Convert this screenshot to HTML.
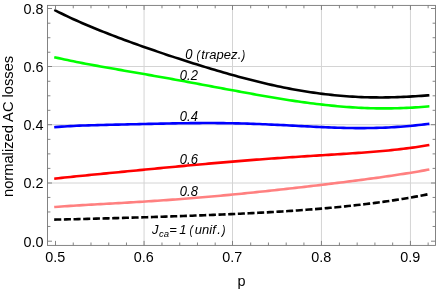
<!DOCTYPE html>
<html><head><meta charset="utf-8"><title>plot</title>
<style>
html,body{margin:0;padding:0;background:#fff;}
body{width:436px;height:291px;overflow:hidden;font-family:"Liberation Sans",sans-serif;}
svg{display:block;}
text{font-family:"Liberation Sans",sans-serif;fill:#000;}
.t{font-size:14.4px;}
.i{font-size:13px;font-style:italic;}
.s{font-size:9.5px;font-style:italic;}
</style></head><body>
<svg width="436" height="291" viewBox="0 0 436 291">
<defs><filter id="gs" x="0" y="0" width="436" height="291" filterUnits="userSpaceOnUse" color-interpolation-filters="sRGB"><feColorMatrix type="saturate" values="0"/></filter></defs>
<rect x="0" y="0" width="436" height="291" fill="#fff"/>
<g stroke="#d4d4d4" stroke-width="1" fill="none">
<line x1="144.05" y1="5.40" x2="144.05" y2="245.40"/>
<line x1="232.50" y1="5.40" x2="232.50" y2="245.40"/>
<line x1="321.45" y1="5.40" x2="321.45" y2="245.40"/>
<line x1="410.45" y1="5.40" x2="410.45" y2="245.40"/>
<line x1="47.50" y1="183.00" x2="435.50" y2="183.00"/>
<line x1="47.50" y1="124.70" x2="435.50" y2="124.70"/>
<line x1="47.50" y1="66.50" x2="435.50" y2="66.50"/>
</g>
<path d="M54.2 219.64 L57.2 219.57 L60.2 219.51 L63.2 219.45 L66.2 219.38 L69.2 219.31 L72.2 219.25 L75.2 219.18 L78.2 219.10 L81.2 219.03 L84.2 218.96 L87.2 218.88 L90.2 218.81 L93.2 218.73 L96.2 218.65 L99.2 218.57 L102.2 218.49 L105.2 218.41 L108.2 218.33 L111.2 218.25 L114.2 218.17 L117.2 218.08 L120.2 218.00 L123.2 217.91 L126.2 217.82 L129.2 217.73 L132.2 217.65 L135.2 217.56 L138.2 217.47 L141.2 217.38 L144.2 217.28 L147.2 217.19 L150.2 217.10 L153.2 217.00 L156.2 216.91 L159.2 216.81 L162.2 216.71 L165.2 216.61 L168.2 216.52 L171.2 216.42 L174.2 216.31 L177.2 216.21 L180.2 216.11 L183.2 216.00 L186.2 215.90 L189.2 215.79 L192.2 215.68 L195.2 215.57 L198.2 215.46 L201.2 215.35 L204.2 215.23 L207.2 215.11 L210.2 215.00 L213.2 214.88 L216.2 214.76 L219.2 214.63 L222.2 214.51 L225.2 214.38 L228.2 214.25 L231.2 214.12 L234.2 213.98 L237.2 213.85 L240.2 213.71 L243.2 213.57 L246.2 213.42 L249.2 213.27 L252.2 213.12 L255.2 212.97 L258.2 212.82 L261.2 212.66 L264.2 212.49 L267.2 212.33 L270.2 212.16 L273.2 211.99 L276.2 211.81 L279.2 211.63 L282.2 211.44 L285.2 211.25 L288.2 211.06 L291.2 210.86 L294.2 210.66 L297.2 210.45 L300.2 210.24 L303.2 210.02 L306.2 209.80 L309.2 209.57 L312.2 209.34 L315.2 209.10 L318.2 208.86 L321.2 208.61 L324.2 208.35 L327.2 208.09 L330.2 207.82 L333.2 207.54 L336.2 207.26 L339.2 206.97 L342.2 206.67 L345.2 206.37 L348.2 206.06 L351.2 205.74 L354.2 205.41 L357.2 205.08 L360.2 204.73 L363.2 204.38 L366.2 204.02 L369.2 203.65 L372.2 203.27 L375.2 202.88 L378.2 202.49 L381.2 202.08 L384.2 201.66 L387.2 201.23 L390.2 200.80 L393.2 200.35 L396.2 199.89 L399.2 199.42 L402.2 198.94 L405.2 198.44 L408.2 197.94 L411.2 197.42 L414.2 196.89 L417.2 196.35 L420.2 195.79 L423.2 195.23 L426.2 194.65 L428.3 194.23" fill="none" stroke="#000" stroke-width="2.6" stroke-dasharray="7.07 2.6"/>
<path d="M55.5 206.97 L58.5 206.74 L61.5 206.52 L64.5 206.31 L67.5 206.11 L70.5 205.91 L73.5 205.72 L76.5 205.53 L79.5 205.34 L82.5 205.16 L85.5 204.98 L88.5 204.80 L91.5 204.63 L94.5 204.46 L97.5 204.29 L100.5 204.12 L103.5 203.95 L106.5 203.78 L109.5 203.61 L112.5 203.44 L115.5 203.27 L118.5 203.10 L121.5 202.93 L124.5 202.76 L127.5 202.58 L130.5 202.41 L133.5 202.23 L136.5 202.05 L139.5 201.86 L142.5 201.68 L145.5 201.49 L148.5 201.30 L151.5 201.11 L154.5 200.91 L157.5 200.71 L160.5 200.50 L163.5 200.30 L166.5 200.09 L169.5 199.87 L172.5 199.66 L175.5 199.43 L178.5 199.21 L181.5 198.98 L184.5 198.75 L187.5 198.51 L190.5 198.28 L193.5 198.03 L196.5 197.79 L199.5 197.54 L202.5 197.28 L205.5 197.02 L208.5 196.76 L211.5 196.50 L214.5 196.23 L217.5 195.96 L220.5 195.68 L223.5 195.41 L226.5 195.12 L229.5 194.84 L232.5 194.55 L235.5 194.26 L238.5 193.97 L241.5 193.67 L244.5 193.37 L247.5 193.07 L250.5 192.76 L253.5 192.45 L256.5 192.14 L259.5 191.83 L262.5 191.51 L265.5 191.20 L268.5 190.87 L271.5 190.55 L274.5 190.23 L277.5 189.90 L280.5 189.57 L283.5 189.24 L286.5 188.90 L289.5 188.57 L292.5 188.23 L295.5 187.89 L298.5 187.55 L301.5 187.20 L304.5 186.86 L307.5 186.51 L310.5 186.16 L313.5 185.80 L316.5 185.45 L319.5 185.09 L322.5 184.74 L325.5 184.38 L328.5 184.01 L331.5 183.65 L334.5 183.28 L337.5 182.91 L340.5 182.54 L343.5 182.17 L346.5 181.79 L349.5 181.41 L352.5 181.03 L355.5 180.64 L358.5 180.25 L361.5 179.86 L364.5 179.46 L367.5 179.06 L370.5 178.66 L373.5 178.25 L376.5 177.84 L379.5 177.42 L382.5 177.00 L385.5 176.57 L388.5 176.14 L391.5 175.70 L394.5 175.25 L397.5 174.80 L400.5 174.34 L403.5 173.87 L406.5 173.40 L409.5 172.91 L412.5 172.42 L415.5 171.92 L418.5 171.41 L421.5 170.89 L424.5 170.36 L427.5 169.81 L428.1 169.70" fill="none" stroke="#ff8080" stroke-width="2.6" stroke-linecap="square"/>
<path d="M55.5 178.54 L58.5 178.21 L61.5 177.89 L64.5 177.57 L67.5 177.26 L70.5 176.95 L73.5 176.64 L76.5 176.33 L79.5 176.02 L82.5 175.72 L85.5 175.42 L88.5 175.12 L91.5 174.82 L94.5 174.53 L97.5 174.23 L100.5 173.93 L103.5 173.64 L106.5 173.35 L109.5 173.05 L112.5 172.76 L115.5 172.47 L118.5 172.18 L121.5 171.89 L124.5 171.60 L127.5 171.30 L130.5 171.01 L133.5 170.72 L136.5 170.43 L139.5 170.14 L142.5 169.85 L145.5 169.56 L148.5 169.27 L151.5 168.99 L154.5 168.70 L157.5 168.41 L160.5 168.12 L163.5 167.83 L166.5 167.55 L169.5 167.26 L172.5 166.98 L175.5 166.69 L178.5 166.41 L181.5 166.13 L184.5 165.85 L187.5 165.57 L190.5 165.29 L193.5 165.01 L196.5 164.74 L199.5 164.46 L202.5 164.19 L205.5 163.92 L208.5 163.65 L211.5 163.38 L214.5 163.12 L217.5 162.85 L220.5 162.59 L223.5 162.34 L226.5 162.08 L229.5 161.83 L232.5 161.58 L235.5 161.33 L238.5 161.08 L241.5 160.84 L244.5 160.60 L247.5 160.36 L250.5 160.13 L253.5 159.89 L256.5 159.66 L259.5 159.44 L262.5 159.21 L265.5 158.99 L268.5 158.77 L271.5 158.56 L274.5 158.35 L277.5 158.14 L280.5 157.93 L283.5 157.72 L286.5 157.52 L289.5 157.32 L292.5 157.12 L295.5 156.93 L298.5 156.73 L301.5 156.54 L304.5 156.35 L307.5 156.16 L310.5 155.98 L313.5 155.79 L316.5 155.60 L319.5 155.42 L322.5 155.23 L325.5 155.05 L328.5 154.86 L331.5 154.67 L334.5 154.49 L337.5 154.30 L340.5 154.11 L343.5 153.92 L346.5 153.72 L349.5 153.52 L352.5 153.32 L355.5 153.11 L358.5 152.90 L361.5 152.69 L364.5 152.47 L367.5 152.24 L370.5 152.01 L373.5 151.77 L376.5 151.52 L379.5 151.26 L382.5 150.99 L385.5 150.71 L388.5 150.42 L391.5 150.12 L394.5 149.81 L397.5 149.48 L400.5 149.14 L403.5 148.79 L406.5 148.41 L409.5 148.02 L412.5 147.62 L415.5 147.19 L418.5 146.74 L421.5 146.27 L424.5 145.78 L427.5 145.27 L428.1 145.16" fill="none" stroke="#ff0000" stroke-width="2.6" stroke-linecap="square"/>
<path d="M55.5 127.11 L58.5 126.86 L61.5 126.63 L64.5 126.43 L67.5 126.25 L70.5 126.08 L73.5 125.93 L76.5 125.80 L79.5 125.67 L82.5 125.56 L85.5 125.45 L88.5 125.35 L91.5 125.26 L94.5 125.18 L97.5 125.09 L100.5 125.02 L103.5 124.94 L106.5 124.87 L109.5 124.80 L112.5 124.73 L115.5 124.66 L118.5 124.59 L121.5 124.53 L124.5 124.46 L127.5 124.39 L130.5 124.32 L133.5 124.25 L136.5 124.19 L139.5 124.12 L142.5 124.05 L145.5 123.98 L148.5 123.91 L151.5 123.85 L154.5 123.78 L157.5 123.71 L160.5 123.65 L163.5 123.59 L166.5 123.53 L169.5 123.47 L172.5 123.41 L175.5 123.36 L178.5 123.31 L181.5 123.26 L184.5 123.22 L187.5 123.18 L190.5 123.15 L193.5 123.12 L196.5 123.09 L199.5 123.08 L202.5 123.06 L205.5 123.06 L208.5 123.05 L211.5 123.06 L214.5 123.07 L217.5 123.09 L220.5 123.11 L223.5 123.15 L226.5 123.19 L229.5 123.23 L232.5 123.28 L235.5 123.34 L238.5 123.41 L241.5 123.49 L244.5 123.57 L247.5 123.66 L250.5 123.75 L253.5 123.85 L256.5 123.96 L259.5 124.07 L262.5 124.19 L265.5 124.32 L268.5 124.45 L271.5 124.59 L274.5 124.73 L277.5 124.87 L280.5 125.02 L283.5 125.17 L286.5 125.32 L289.5 125.47 L292.5 125.63 L295.5 125.79 L298.5 125.94 L301.5 126.10 L304.5 126.26 L307.5 126.41 L310.5 126.56 L313.5 126.71 L316.5 126.86 L319.5 127.00 L322.5 127.14 L325.5 127.27 L328.5 127.39 L331.5 127.51 L334.5 127.61 L337.5 127.71 L340.5 127.80 L343.5 127.88 L346.5 127.95 L349.5 128.01 L352.5 128.05 L355.5 128.09 L358.5 128.11 L361.5 128.11 L364.5 128.10 L367.5 128.07 L370.5 128.03 L373.5 127.98 L376.5 127.90 L379.5 127.81 L382.5 127.71 L385.5 127.58 L388.5 127.44 L391.5 127.28 L394.5 127.10 L397.5 126.91 L400.5 126.69 L403.5 126.46 L406.5 126.22 L409.5 125.95 L412.5 125.67 L415.5 125.38 L418.5 125.07 L421.5 124.75 L424.5 124.41 L427.5 124.06 L428.1 123.99" fill="none" stroke="#0000ff" stroke-width="2.6" stroke-linecap="square"/>
<path d="M55.5 57.46 L58.5 58.14 L61.5 58.80 L64.5 59.45 L67.5 60.09 L70.5 60.71 L73.5 61.32 L76.5 61.93 L79.5 62.52 L82.5 63.10 L85.5 63.67 L88.5 64.24 L91.5 64.79 L94.5 65.35 L97.5 65.89 L100.5 66.43 L103.5 66.97 L106.5 67.50 L109.5 68.04 L112.5 68.56 L115.5 69.09 L118.5 69.61 L121.5 70.14 L124.5 70.66 L127.5 71.18 L130.5 71.70 L133.5 72.22 L136.5 72.75 L139.5 73.27 L142.5 73.79 L145.5 74.32 L148.5 74.85 L151.5 75.38 L154.5 75.91 L157.5 76.44 L160.5 76.97 L163.5 77.51 L166.5 78.05 L169.5 78.59 L172.5 79.13 L175.5 79.68 L178.5 80.22 L181.5 80.77 L184.5 81.32 L187.5 81.88 L190.5 82.43 L193.5 82.99 L196.5 83.54 L199.5 84.10 L202.5 84.66 L205.5 85.22 L208.5 85.79 L211.5 86.35 L214.5 86.91 L217.5 87.47 L220.5 88.04 L223.5 88.60 L226.5 89.16 L229.5 89.72 L232.5 90.28 L235.5 90.84 L238.5 91.39 L241.5 91.95 L244.5 92.50 L247.5 93.04 L250.5 93.59 L253.5 94.13 L256.5 94.67 L259.5 95.20 L262.5 95.73 L265.5 96.25 L268.5 96.76 L271.5 97.27 L274.5 97.78 L277.5 98.28 L280.5 98.77 L283.5 99.25 L286.5 99.72 L289.5 100.19 L292.5 100.65 L295.5 101.10 L298.5 101.54 L301.5 101.96 L304.5 102.38 L307.5 102.79 L310.5 103.19 L313.5 103.57 L316.5 103.94 L319.5 104.30 L322.5 104.65 L325.5 104.99 L328.5 105.31 L331.5 105.61 L334.5 105.91 L337.5 106.18 L340.5 106.45 L343.5 106.70 L346.5 106.93 L349.5 107.15 L352.5 107.35 L355.5 107.53 L358.5 107.70 L361.5 107.85 L364.5 107.98 L367.5 108.09 L370.5 108.19 L373.5 108.27 L376.5 108.33 L379.5 108.38 L382.5 108.40 L385.5 108.41 L388.5 108.39 L391.5 108.36 L394.5 108.31 L397.5 108.24 L400.5 108.15 L403.5 108.04 L406.5 107.91 L409.5 107.76 L412.5 107.59 L415.5 107.40 L418.5 107.20 L421.5 106.97 L424.5 106.73 L427.5 106.46 L428.1 106.41" fill="none" stroke="#00ff00" stroke-width="2.6" stroke-linecap="square"/>
<path d="M55.5 10.54 L58.5 12.06 L61.5 13.54 L64.5 15.00 L67.5 16.43 L70.5 17.83 L73.5 19.21 L76.5 20.56 L79.5 21.90 L82.5 23.21 L85.5 24.50 L88.5 25.78 L91.5 27.04 L94.5 28.28 L97.5 29.50 L100.5 30.71 L103.5 31.90 L106.5 33.08 L109.5 34.25 L112.5 35.41 L115.5 36.55 L118.5 37.69 L121.5 38.81 L124.5 39.92 L127.5 41.02 L130.5 42.12 L133.5 43.20 L136.5 44.28 L139.5 45.35 L142.5 46.41 L145.5 47.46 L148.5 48.51 L151.5 49.55 L154.5 50.58 L157.5 51.61 L160.5 52.63 L163.5 53.64 L166.5 54.65 L169.5 55.65 L172.5 56.64 L175.5 57.63 L178.5 58.61 L181.5 59.58 L184.5 60.55 L187.5 61.51 L190.5 62.47 L193.5 63.42 L196.5 64.36 L199.5 65.29 L202.5 66.22 L205.5 67.13 L208.5 68.04 L211.5 68.95 L214.5 69.84 L217.5 70.73 L220.5 71.60 L223.5 72.47 L226.5 73.33 L229.5 74.18 L232.5 75.02 L235.5 75.85 L238.5 76.66 L241.5 77.47 L244.5 78.27 L247.5 79.05 L250.5 79.82 L253.5 80.58 L256.5 81.33 L259.5 82.06 L262.5 82.78 L265.5 83.49 L268.5 84.18 L271.5 84.86 L274.5 85.52 L277.5 86.17 L280.5 86.80 L283.5 87.42 L286.5 88.02 L289.5 88.61 L292.5 89.17 L295.5 89.72 L298.5 90.26 L301.5 90.77 L304.5 91.27 L307.5 91.75 L310.5 92.21 L313.5 92.66 L316.5 93.08 L319.5 93.49 L322.5 93.87 L325.5 94.24 L328.5 94.58 L331.5 94.91 L334.5 95.22 L337.5 95.51 L340.5 95.77 L343.5 96.02 L346.5 96.25 L349.5 96.45 L352.5 96.64 L355.5 96.81 L358.5 96.96 L361.5 97.08 L364.5 97.19 L367.5 97.28 L370.5 97.34 L373.5 97.39 L376.5 97.42 L379.5 97.43 L382.5 97.43 L385.5 97.40 L388.5 97.36 L391.5 97.30 L394.5 97.22 L397.5 97.12 L400.5 97.01 L403.5 96.89 L406.5 96.75 L409.5 96.59 L412.5 96.42 L415.5 96.24 L418.5 96.04 L421.5 95.84 L424.5 95.62 L427.5 95.40 L428.1 95.35" fill="none" stroke="#000" stroke-width="2.6" stroke-linecap="square"/>
<g stroke="#777777" stroke-width="0.9" fill="none">
<rect x="47.50" y="5.40" width="388.00" height="240.00"/>
<line x1="55.50" y1="245.40" x2="55.50" y2="240.90"/>
<line x1="55.50" y1="5.40" x2="55.50" y2="9.90"/>
<line x1="73.25" y1="245.40" x2="73.25" y2="242.50"/>
<line x1="73.25" y1="5.40" x2="73.25" y2="8.30"/>
<line x1="90.99" y1="245.40" x2="90.99" y2="242.50"/>
<line x1="90.99" y1="5.40" x2="90.99" y2="8.30"/>
<line x1="108.74" y1="245.40" x2="108.74" y2="242.50"/>
<line x1="108.74" y1="5.40" x2="108.74" y2="8.30"/>
<line x1="126.48" y1="245.40" x2="126.48" y2="242.50"/>
<line x1="126.48" y1="5.40" x2="126.48" y2="8.30"/>
<line x1="144.05" y1="245.40" x2="144.05" y2="240.90"/>
<line x1="144.05" y1="5.40" x2="144.05" y2="9.90"/>
<line x1="161.97" y1="245.40" x2="161.97" y2="242.50"/>
<line x1="161.97" y1="5.40" x2="161.97" y2="8.30"/>
<line x1="179.72" y1="245.40" x2="179.72" y2="242.50"/>
<line x1="179.72" y1="5.40" x2="179.72" y2="8.30"/>
<line x1="197.46" y1="245.40" x2="197.46" y2="242.50"/>
<line x1="197.46" y1="5.40" x2="197.46" y2="8.30"/>
<line x1="215.20" y1="245.40" x2="215.20" y2="242.50"/>
<line x1="215.20" y1="5.40" x2="215.20" y2="8.30"/>
<line x1="232.50" y1="245.40" x2="232.50" y2="240.90"/>
<line x1="232.50" y1="5.40" x2="232.50" y2="9.90"/>
<line x1="250.69" y1="245.40" x2="250.69" y2="242.50"/>
<line x1="250.69" y1="5.40" x2="250.69" y2="8.30"/>
<line x1="268.44" y1="245.40" x2="268.44" y2="242.50"/>
<line x1="268.44" y1="5.40" x2="268.44" y2="8.30"/>
<line x1="286.19" y1="245.40" x2="286.19" y2="242.50"/>
<line x1="286.19" y1="5.40" x2="286.19" y2="8.30"/>
<line x1="303.93" y1="245.40" x2="303.93" y2="242.50"/>
<line x1="303.93" y1="5.40" x2="303.93" y2="8.30"/>
<line x1="321.45" y1="245.40" x2="321.45" y2="240.90"/>
<line x1="321.45" y1="5.40" x2="321.45" y2="9.90"/>
<line x1="339.42" y1="245.40" x2="339.42" y2="242.50"/>
<line x1="339.42" y1="5.40" x2="339.42" y2="8.30"/>
<line x1="357.17" y1="245.40" x2="357.17" y2="242.50"/>
<line x1="357.17" y1="5.40" x2="357.17" y2="8.30"/>
<line x1="374.91" y1="245.40" x2="374.91" y2="242.50"/>
<line x1="374.91" y1="5.40" x2="374.91" y2="8.30"/>
<line x1="392.66" y1="245.40" x2="392.66" y2="242.50"/>
<line x1="392.66" y1="5.40" x2="392.66" y2="8.30"/>
<line x1="410.45" y1="245.40" x2="410.45" y2="240.90"/>
<line x1="410.45" y1="5.40" x2="410.45" y2="9.90"/>
<line x1="428.14" y1="245.40" x2="428.14" y2="242.50"/>
<line x1="428.14" y1="5.40" x2="428.14" y2="8.30"/>
<line x1="47.50" y1="241.20" x2="52.00" y2="241.20"/>
<line x1="435.50" y1="241.20" x2="431.00" y2="241.20"/>
<line x1="47.50" y1="226.48" x2="50.40" y2="226.48"/>
<line x1="435.50" y1="226.48" x2="432.60" y2="226.48"/>
<line x1="47.50" y1="211.96" x2="50.40" y2="211.96"/>
<line x1="435.50" y1="211.96" x2="432.60" y2="211.96"/>
<line x1="47.50" y1="197.44" x2="50.40" y2="197.44"/>
<line x1="435.50" y1="197.44" x2="432.60" y2="197.44"/>
<line x1="47.50" y1="183.00" x2="52.00" y2="183.00"/>
<line x1="435.50" y1="183.00" x2="431.00" y2="183.00"/>
<line x1="47.50" y1="168.40" x2="50.40" y2="168.40"/>
<line x1="435.50" y1="168.40" x2="432.60" y2="168.40"/>
<line x1="47.50" y1="153.88" x2="50.40" y2="153.88"/>
<line x1="435.50" y1="153.88" x2="432.60" y2="153.88"/>
<line x1="47.50" y1="139.36" x2="50.40" y2="139.36"/>
<line x1="435.50" y1="139.36" x2="432.60" y2="139.36"/>
<line x1="47.50" y1="124.70" x2="52.00" y2="124.70"/>
<line x1="435.50" y1="124.70" x2="431.00" y2="124.70"/>
<line x1="47.50" y1="110.32" x2="50.40" y2="110.32"/>
<line x1="435.50" y1="110.32" x2="432.60" y2="110.32"/>
<line x1="47.50" y1="95.80" x2="50.40" y2="95.80"/>
<line x1="435.50" y1="95.80" x2="432.60" y2="95.80"/>
<line x1="47.50" y1="81.28" x2="50.40" y2="81.28"/>
<line x1="435.50" y1="81.28" x2="432.60" y2="81.28"/>
<line x1="47.50" y1="66.50" x2="52.00" y2="66.50"/>
<line x1="435.50" y1="66.50" x2="431.00" y2="66.50"/>
<line x1="47.50" y1="52.24" x2="50.40" y2="52.24"/>
<line x1="435.50" y1="52.24" x2="432.60" y2="52.24"/>
<line x1="47.50" y1="37.72" x2="50.40" y2="37.72"/>
<line x1="435.50" y1="37.72" x2="432.60" y2="37.72"/>
<line x1="47.50" y1="23.20" x2="50.40" y2="23.20"/>
<line x1="435.50" y1="23.20" x2="432.60" y2="23.20"/>
<line x1="47.50" y1="8.50" x2="52.00" y2="8.50"/>
<line x1="435.50" y1="8.50" x2="431.00" y2="8.50"/>
</g>
<g filter="url(#gs)">
<text class="t" transform="translate(55.20,262.30) scale(1.000,1.065)" text-anchor="middle">0.5</text>
<text class="t" transform="translate(143.75,262.30) scale(1.000,1.065)" text-anchor="middle">0.6</text>
<text class="t" transform="translate(232.20,262.30) scale(1.000,1.065)" text-anchor="middle">0.7</text>
<text class="t" transform="translate(321.15,262.30) scale(1.000,1.065)" text-anchor="middle">0.8</text>
<text class="t" transform="translate(410.15,262.30) scale(1.000,1.065)" text-anchor="middle">0.9</text>
<text class="t" transform="translate(43.60,246.50) scale(1.000,1.065)" text-anchor="end">0.0</text>
<text class="t" transform="translate(43.60,188.30) scale(1.000,1.065)" text-anchor="end">0.2</text>
<text class="t" transform="translate(43.60,130.00) scale(1.000,1.065)" text-anchor="end">0.4</text>
<text class="t" transform="translate(43.60,71.80) scale(1.000,1.065)" text-anchor="end">0.6</text>
<text class="t" transform="translate(43.60,13.80) scale(1.000,1.065)" text-anchor="end">0.8</text>
<text class="t" x="241.60" y="285.60" text-anchor="middle">p</text>
<text class="t" transform="translate(13.1,126.4) rotate(-90)" text-anchor="middle" style="font-size:14.7px">normalized AC losses</text>
<text class="i" transform="translate(185.20,59.30) scale(1.000,1.080)">0</text>
<text class="i" transform="translate(196.40,59.30) scale(0.800,1.000)">(</text>
<text class="i" x="201.30" y="59.30">trapez</text>
<text class="i" x="237.70" y="59.30">.</text>
<text class="i" transform="translate(241.70,59.30) scale(0.800,1.000)">)</text>
<text class="i" transform="translate(179.80,80.00) scale(1.000,1.080)">0.2</text>
<text class="i" transform="translate(179.80,120.80) scale(1.000,1.080)">0.4</text>
<text class="i" transform="translate(179.80,164.30) scale(1.000,1.080)">0.6</text>
<text class="i" transform="translate(179.80,196.00) scale(1.000,1.080)">0.8</text>
<text class="i" transform="translate(152.00,234.30) scale(1.000,1.050)">J</text>
<text class="s" x="158.90" y="236.60">ca</text>
<text class="i" x="169.30" y="234.00">=</text>
<text class="i" x="179.30" y="234.00">1</text>
<text class="i" transform="translate(189.60,234.00) scale(0.800,1.000)">(</text>
<text class="i" x="194.80" y="234.00">unif</text>
<text class="i" x="217.20" y="234.00">.</text>
<text class="i" transform="translate(221.90,234.00) scale(0.800,1.000)">)</text>
</g>
</svg></body></html>
